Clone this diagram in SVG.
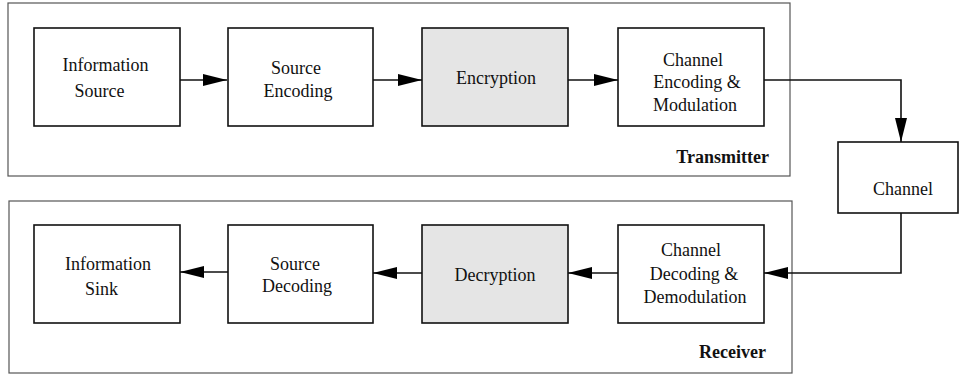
<svg xmlns="http://www.w3.org/2000/svg" width="960" height="381" viewBox="0 0 960 381">
<defs>
<style>
.frame{fill:#fff;stroke:#555;stroke-width:1.2}
.box{fill:#fff;stroke:#111;stroke-width:1.6}
.shade{fill:#e5e5e5;stroke:#111;stroke-width:1.6}
.t{font-family:"Liberation Serif","Times New Roman",serif;font-size:18px;fill:#111;text-anchor:middle}
.lbl{font-family:"Liberation Serif","Times New Roman",serif;font-size:18px;font-weight:bold;fill:#111;text-anchor:end}
.c{fill:none;stroke:#111;stroke-width:1.6}
</style>
<marker id="ah" markerUnits="userSpaceOnUse" markerWidth="24" markerHeight="12" refX="24" refY="6" orient="auto">
<path d="M0,0 L24,6 L0,12 Z" fill="#000"/>
</marker>
</defs>
<rect width="960" height="381" fill="#fff"/>
<g id="transmitter">
<rect class="frame" x="8" y="3" width="782" height="173"/>
<text class="lbl" x="769" y="163">Transmitter</text>
</g>
<g id="receiver">
<rect class="frame" x="9" y="201" width="783" height="172"/>
<text class="lbl" x="766" y="358">Receiver</text>
</g>
<g id="info-source">
<rect class="box" x="34" y="28" width="146" height="98"/>
<text class="t" x="105.5" y="71">Information</text>
<text class="t" x="99.5" y="97">Source</text>
</g>
<g id="source-encoding">
<rect class="box" x="228" y="28" width="145" height="98"/>
<text class="t" x="296" y="74">Source</text>
<text class="t" x="298" y="97">Encoding</text>
</g>
<g id="encryption">
<rect class="shade" x="422" y="28" width="146" height="98"/>
<text class="t" x="496" y="84">Encryption</text>
</g>
<g id="channel-encoding">
<rect class="box" x="618" y="28" width="146" height="98"/>
<text class="t" x="693" y="66">Channel</text>
<text class="t" x="697" y="88">Encoding &amp;</text>
<text class="t" x="695" y="110.5">Modulation</text>
</g>
<g id="channel">
<rect class="box" x="838" y="142" width="120" height="71"/>
<text class="t" x="903" y="195">Channel</text>
</g>
<g id="info-sink">
<rect class="box" x="34" y="225" width="146" height="98"/>
<text class="t" x="108" y="270">Information</text>
<text class="t" x="101.5" y="295">Sink</text>
</g>
<g id="source-decoding">
<rect class="box" x="228" y="225" width="145" height="98"/>
<text class="t" x="295" y="270">Source</text>
<text class="t" x="297" y="291.5">Decoding</text>
</g>
<g id="decryption">
<rect class="shade" x="422" y="225" width="146" height="98"/>
<text class="t" x="495" y="281">Decryption</text>
</g>
<g id="channel-decoding">
<rect class="box" x="618" y="225" width="146" height="98"/>
<text class="t" x="691" y="255.5">Channel</text>
<text class="t" x="694" y="280">Decoding &amp;</text>
<text class="t" x="695" y="302.5">Demodulation</text>
</g>
<g id="connectors">
<path class="c" d="M180,80 L227,80" marker-end="url(#ah)"/>
<path class="c" d="M373,80 L422,80" marker-end="url(#ah)"/>
<path class="c" d="M568,80 L618,80" marker-end="url(#ah)"/>
<path class="c" d="M764,80 L901,80 L901,142" marker-end="url(#ah)"/>
<path class="c" d="M901,213 L901,273 L764,273" marker-end="url(#ah)"/>
<path class="c" d="M618,273 L568,273" marker-end="url(#ah)"/>
<path class="c" d="M422,273 L373,273" marker-end="url(#ah)"/>
<path class="c" d="M228,272 L180,272" marker-end="url(#ah)"/>
</g>
</svg>
